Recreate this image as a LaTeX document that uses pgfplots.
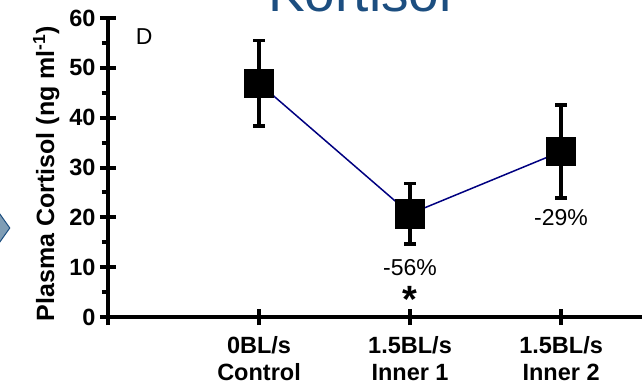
\documentclass[border=0pt]{standalone}
\usepackage{pgfplots}
\pgfplotsset{compat=1.18}
\usepackage{fontspec}
\setmainfont{Liberation Sans}
\usetikzlibrary{shapes.geometric}
\definecolor{titleblue}{HTML}{1C4E80}
\definecolor{navy}{HTML}{000080}
\definecolor{chev}{HTML}{7F9DB5}
\begin{document}
\begin{tikzpicture}[x=1pt,y=1pt]
\path[use as bounding box] (-108,-71) rectangle (534,317);
\begin{axis}[
  at={(0,0)}, anchor=origin,
  scale only axis, width=534pt, height=299pt,
  xmin=0, xmax=3.536, ymin=0, ymax=60,
  clip=false,
  axis lines=left,
  axis line style={-, line width=4.5pt, black},
  xtick={1,2,3},
  xticklabels={{0BL/s\\Control},{1.5BL/s\\Inner 1},{1.5BL/s\\Inner 2}},
  extra x ticks={0}, extra x tick labels={},
  ytick={0,10,...,60},
  minor ytick={5,15,...,55},
  tick align=center,
  major tick length=16pt,
  minor tick length=6pt,
  minor y tick style={xshift=-3pt},
  tick style={black, line width=4pt},
  /pgf/number format/assume math mode=true,
  tick label style={font=\fontsize{23.5}{27}\selectfont\bfseries},
  xticklabel style={align=center, yshift=-8pt},
  yticklabel style={xshift=-1pt},
  ylabel={Plasma Cortisol (ng ml\textsuperscript{-1})},
  ylabel style={font=\fontsize{25}{28}\selectfont\bfseries, yshift=3pt, xshift=-6pt},
]
\addplot[navy, line width=1.5pt, mark=square*, mark size=14pt,
  mark options={black, fill=black, solid},
  error bars/.cd, y dir=both, y explicit,
  error bar style={black, line width=3.8pt},
  error mark options={black, line width=3.8pt, mark size=6pt, rotate=90}]
  coordinates {
    (1,46.9) +- (0,8.6)
    (2,20.7) +- (0,6.1)
    (3,33.2) +- (0,9.4)
  };
\node[font=\fontsize{23}{24}\selectfont] at (axis cs:0.24,56.3) {D};
\node[font=\fontsize{23}{24}\selectfont] at (axis cs:2,10) {-56\%};
\node[font=\fontsize{23}{24}\selectfont] at (axis cs:3,19.9) {-29\%};
\node[font=\fontsize{38}{38}\selectfont\bfseries, inner sep=0pt] at (axis cs:2,3.6) {*};
\end{axis}
\node[font=\fontsize{55}{55}\selectfont, text=titleblue, anchor=base] at (252,305) {Kortisol};
\node[diamond, draw=titleblue, fill=chev, line width=1pt, minimum width=30pt, minimum height=42pt, inner sep=0pt] at (-113,89) {};
\end{tikzpicture}
\end{document}
